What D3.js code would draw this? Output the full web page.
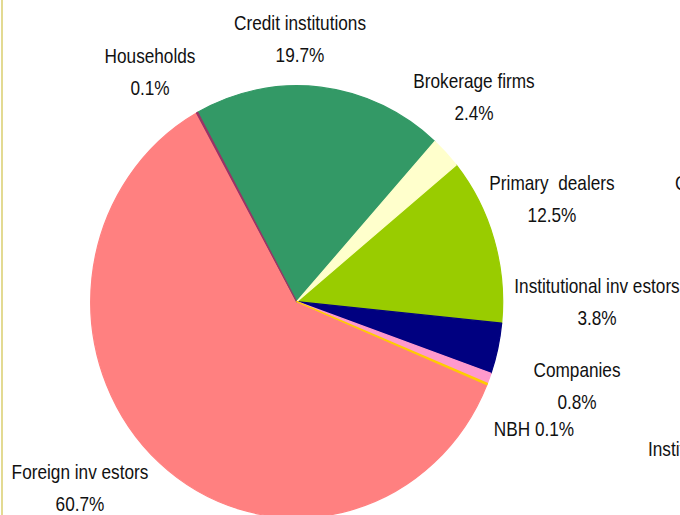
<!DOCTYPE html>
<html>
<head>
<meta charset="utf-8">
<script src="https://cdn.jsdelivr.net/npm/d3@7"></script>
<style>
  body { margin: 0; background: #fff; }
  text { font-family: "Liberation Sans", Arial, sans-serif; font-size: 21px; fill: #111; white-space: pre; }
</style>
</head>
<body>
<script>
// data
var categories = ['Households', 'Credit institutions', 'Brokerage firms', 'Primary  dealers',
    'Institutional inv estors', 'Companies', 'NBH', 'Foreign inv estors'];
var shares = [0.1, 19.7, 2.4, 12.5, 3.8, 0.8, 0.1, 60.7];
var colors = ['#993366', '#339966', '#ffffcc', '#99cc00', '#000080', '#ff99cc', '#ffcc00', '#ff8080'];

// label anchors (centre x, first baseline) - placed by hand like in the original
var labelPos = [[150, 63], [300, 30], [474, 88], [552, 190], [597, 293], [577, 377], [534, 436], [80, 479]];
var oneLine = [false, false, false, false, false, false, true, false];

// narrow look: Arial squeezed horizontally
var squeeze = 0.82;

var svg = d3.select('body')
    .append('svg')
    .attr('width', 680)
    .attr('height', 515)
    .style('display', 'block');

// thin rule on the left
svg.append('rect')
    .attr('x', 1)
    .attr('y', 0)
    .attr('width', 2)
    .attr('height', 515)
    .attr('fill', '#e3da92');

var cx = 296.7, cy = 301.7, r = 206, ry = 216;

var pie = d3.pie()
    .sort(null)
    .startAngle(-29.1 * Math.PI / 180)
    .endAngle(-29.1 * Math.PI / 180 + 2 * Math.PI);

var arc = d3.arc().innerRadius(0).outerRadius(r);

var arcs = pie(shares);
arcs.forEach(function (d, i) { d.i = i; });

var g = svg.append('g')
    .attr('transform', 'translate(' + cx + ',' + cy + ') scale(1,' + (ry / r) + ')');

// big slices first so the thin ones stay visible
g.selectAll('path')
    .data(arcs.slice().sort(function (a, b) { return b.value - a.value; }))
    .enter()
    .append('path')
    .attr('d', arc)
    .attr('fill', function (d) { return colors[d.i]; })
    .attr('stroke', function (d) { return colors[d.i]; })
    .attr('stroke-width', 1.2)
    .attr('stroke-linejoin', 'round');

// labels
var labels = svg.selectAll('text.lbl')
    .data(categories)
    .enter()
    .append('text')
    .attr('class', 'lbl')
    .attr('text-anchor', 'middle')
    .attr('transform', function (d, i) {
        return 'translate(' + labelPos[i][0] + ',' + labelPos[i][1] + ') scale(' + squeeze + ',1)';
    });

labels.each(function (d, i) {
    var t = d3.select(this);
    if (oneLine[i]) {
        t.text(d + ' ' + shares[i].toFixed(1) + '%');
    } else {
        t.append('tspan').attr('x', 0).text(d);
        t.append('tspan').attr('x', 0).attr('dy', 32).text(shares[i].toFixed(1) + '%');
    }
});

// labels of the neighbouring chart, cut off at the edge
svg.append('text').attr('transform', 'translate(675,190) scale(' + squeeze + ',1)').text('Credit institutions');
svg.append('text').attr('transform', 'translate(648,456) scale(' + squeeze + ',1)').text('Institutional investors');
</script>
</body>
</html>
